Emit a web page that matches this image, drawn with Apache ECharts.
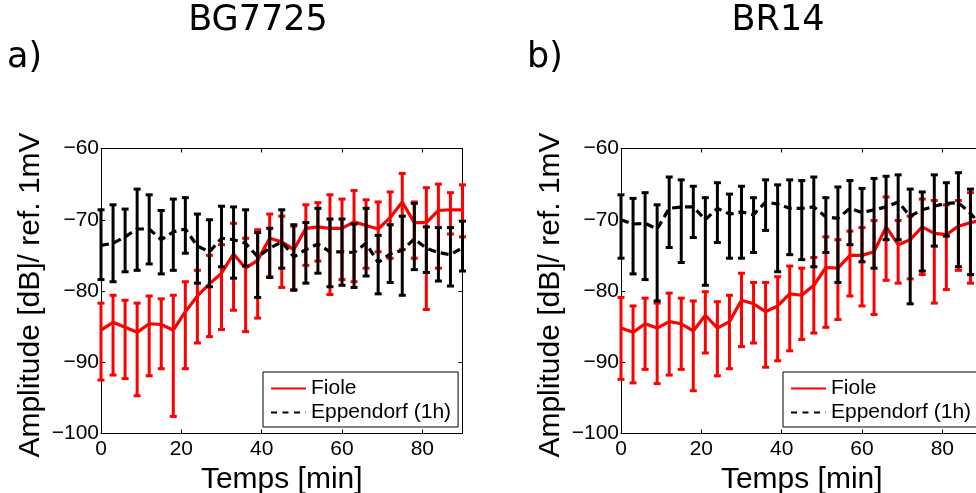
<!DOCTYPE html>
<html>
<head>
<meta charset="utf-8">
<script src="https://cdn.jsdelivr.net/npm/echarts@6/dist/echarts.min.js"></script>
<style>
html,body{margin:0;padding:0;background:#fff;}
#chart{width:976px;height:493px;}
</style>
</head>
<body>
<div id="chart"></div>
<script>
// ---------- data ----------
const timeMin = [0,3,6,9,12,15,18,21,24,27,30,33,36,39,42,45,48,51,54,57,60,63,66,69,72,75,78,81,84,87,90];
const panelTitles = ['BG7725', 'BR14'];
const panelLetters = ['a)', 'b)'];
const seriesNames = ['Fiole', 'Eppendorf (1h)'];
const yTicks = [-100, -90, -80, -70, -60];
const xTicks = [0, 20, 40, 60, 80];

// Panel a) BG7725
const aFioleMean = [-85.5,-84.4,-85.1,-85.8,-84.6,-84.7,-85.5,-82.9,-80.7,-79.0,-77.5,-74.8,-76.8,-75.7,-72.6,-73.1,-74.2,-71.2,-71.0,-71.2,-71.2,-70.3,-70.8,-71.3,-69.7,-67.5,-70.4,-70.4,-68.7,-68.6,-68.6];
const aFioleLow  = [-92.5,-91.8,-92.3,-94.7,-91.9,-90.9,-97.6,-90.9,-87.3,-86.4,-85.4,-82.7,-85.7,-83.8,-78.0,-79.5,-79.8,-76.4,-75.8,-80.5,-78.4,-78.7,-76.8,-74.5,-75.4,-74.2,-75.4,-82.6,-76.8,-72.0,-72.4];
const aFioleHigh = [-81.7,-80.6,-81.3,-81.7,-80.7,-81.1,-80.6,-78.7,-77.1,-75.0,-73.5,-70.5,-72.6,-71.4,-69.2,-69.5,-70.9,-67.9,-67.6,-66.5,-67.1,-65.9,-67.2,-67.5,-66.1,-63.5,-67.5,-65.5,-65.0,-66.2,-65.1];
const aEppMean = [-73.6,-73.3,-72.4,-71.3,-71.3,-72.8,-71.7,-71.3,-73.7,-74.5,-72.6,-72.8,-73.3,-75.2,-74.0,-73.1,-75.2,-74.2,-73.4,-74.5,-74.5,-74.6,-73.3,-76.0,-74.8,-74.3,-72.7,-74.0,-74.6,-74.9,-73.9];
const aEppLow  = [-78.4,-78.7,-77.3,-77.1,-76.2,-77.6,-77.1,-74.7,-78.9,-79.4,-76.6,-78.2,-76.5,-80.9,-78.1,-76.8,-79.9,-78.9,-77.5,-79.4,-79.2,-79.5,-77.9,-80.4,-78.8,-80.6,-77.0,-77.4,-78.6,-79.3,-77.2];
const aEppHigh = [-68.6,-67.9,-68.5,-65.7,-66.5,-68.7,-67.1,-66.9,-69.2,-70.0,-68.1,-68.2,-68.6,-71.8,-71.2,-68.6,-70.7,-70.4,-68.4,-69.9,-69.9,-70.6,-68.4,-72.2,-70.7,-69.5,-67.7,-71.0,-71.1,-71.1,-70.2];

// Panel b) BR14
const bFioleMean = [-85.2,-85.8,-84.6,-85.2,-84.3,-84.6,-85.6,-83.4,-85.2,-84.3,-81.3,-81.8,-82.9,-82.1,-80.4,-80.6,-79.2,-76.7,-76.8,-75.0,-75.0,-74.5,-71.0,-73.5,-72.8,-71.0,-71.9,-72.1,-70.9,-70.4,-70.0];
const bFioleLow  = [-92.4,-92.9,-91.0,-93.0,-91.8,-91.0,-94.0,-88.7,-91.9,-90.9,-87.8,-87.3,-90.7,-89.8,-88.4,-86.8,-85.9,-85.1,-84.0,-80.7,-82.1,-83.3,-78.5,-78.9,-78.3,-77.7,-81.7,-79.8,-77.1,-78.9,-77.5];
const bFioleHigh = [-80.9,-82.1,-81.0,-81.7,-80.3,-81.0,-81.4,-80.1,-81.5,-80.6,-77.5,-78.8,-78.8,-78.0,-76.5,-76.8,-75.3,-72.4,-72.8,-71.6,-71.1,-70.1,-66.8,-70.1,-69.5,-67.1,-67.3,-67.9,-67.3,-66.2,-66.5];
const bEppMean = [-70.0,-70.6,-70.5,-71.3,-68.4,-68.2,-68.2,-70.0,-68.4,-69.2,-68.9,-69.3,-67.5,-67.8,-68.4,-68.4,-68.2,-69.6,-69.8,-68.4,-69.0,-68.6,-68.2,-67.5,-69.5,-68.6,-68.1,-67.7,-67.6,-69.1,-71.0];
const bEppLow  = [-75.4,-77.6,-78.4,-81.4,-73.9,-76.0,-72.5,-79.2,-73.2,-75.4,-75.4,-74.6,-71.5,-77.3,-74.9,-75.6,-76.6,-74.6,-78.8,-73.5,-75.9,-76.8,-72.8,-72.8,-81.8,-77.2,-73.7,-72.3,-76.6,-77.7,-76.5];
const bEppHigh = [-66.5,-67.0,-66.2,-67.9,-64.0,-64.4,-65.3,-66.9,-64.8,-66.4,-65.3,-66.9,-64.4,-65.1,-64.4,-64.5,-64.0,-66.9,-65.4,-64.5,-65.6,-64.2,-63.9,-63.7,-65.7,-66.1,-63.7,-64.8,-63.4,-65.7,-66.0];

// ---------- helpers ----------
const RED = '#ff0000', BLACK = '#000000';
const FONT = '"Liberation Sans", Arial, sans-serif';
const TFONT = '"DejaVu Sans", Verdana, sans-serif';
const minusFmt = v => (v < 0 ? '\u2212' + Math.abs(v) : String(v));

function pairs(xs, ys){ return xs.map((x,i)=>[x, ys[i]]); }
function triples(xs, lo, hi){ return xs.map((x,i)=>[x, lo[i], hi[i]]); }

function errRenderer(color){
  return function(params, api){
    const x = api.value(0), lo = api.value(1), hi = api.value(2);
    const a = api.coord([x, lo]), b = api.coord([x, hi]);
    const hw = 3.5;
    const st = {stroke: color, lineWidth: 3, fill: null};
    return {type:'group', children:[
      {type:'line', shape:{x1:a[0], y1:a[1], x2:b[0], y2:b[1]}, style:st},
      {type:'line', shape:{x1:a[0]-hw, y1:a[1], x2:a[0]+hw, y2:a[1]}, style:st},
      {type:'line', shape:{x1:b[0]-hw, y1:b[1], x2:b[0]+hw, y2:b[1]}, style:st}
    ]};
  };
}

const panels = [
  {fm:aFioleMean, fl:aFioleLow, fh:aFioleHigh, em:aEppMean, el:aEppLow, eh:aEppHigh},
  {fm:bFioleMean, fl:bFioleLow, fh:bFioleHigh, em:bEppMean, el:bEppLow, eh:bEppHigh}
];
const gridLefts = [101, 621];
const GRID_TOP = 148.5, GRID_W = 361.5, GRID_H = 285;

const grids = [], xAxes = [], yAxes = [], series = [], legends = [], graphics = [];
panels.forEach((p, k) => {
  grids.push({left: gridLefts[k], top: GRID_TOP, width: GRID_W, height: GRID_H,
              containLabel:false, outerBoundsMode:'none'});
  const axisCommon = {
    axisLine:{show:true, onZero:false, lineStyle:{color:BLACK, width:1}},
    axisTick:{show:true, inside:true, length:4, lineStyle:{color:BLACK, width:1}},
    splitLine:{show:false}
  };
  xAxes.push(Object.assign({
    type:'value', gridIndex:k, position:'bottom', min:0, max:90, interval:20,
    axisLabel:{show:true, margin:5, fontSize:21, color:BLACK, fontFamily:FONT, showMaxLabel:false},
    name:'Temps [min]', nameLocation:'middle', nameGap:21,
    nameTextStyle:{fontSize:30, color:BLACK, fontFamily:FONT}
  }, axisCommon));
  xAxes.push(Object.assign({
    type:'value', gridIndex:k, position:'top', min:0, max:90, interval:20,
    axisLabel:{show:false}
  }, axisCommon));
  yAxes.push(Object.assign({
    type:'value', gridIndex:k, position:'left', min:-100, max:-60, interval:10,
    axisLabel:{show:true, margin:2, fontSize:21, color:BLACK, fontFamily:FONT, formatter:minusFmt},
    name:'Amplitude [dB]/ ref. 1mV', nameLocation:'middle', nameGap:55, nameRotate:90,
    nameTextStyle:{fontSize:30, color:BLACK, fontFamily:FONT, padding:[0,8,0,0]}
  }, axisCommon));
  yAxes.push(Object.assign({
    type:'value', gridIndex:k, position:'right', min:-100, max:-60, interval:10,
    axisLabel:{show:false}
  }, axisCommon));

  const xi = 2*k, yi = 2*k;
  series.push({
    name:'errF'+k, type:'custom', xAxisIndex:xi, yAxisIndex:yi,
    renderItem: errRenderer(RED), data: triples(timeMin, p.fl, p.fh),
    encode:{x:0, y:[1,2]}, z:2, silent:true
  });
  series.push({
    name:seriesNames[0], type:'line', xAxisIndex:xi, yAxisIndex:yi,
    data: pairs(timeMin, p.fm), symbol:'none', showSymbol:false,
    lineStyle:{color:RED, width:3.2}, itemStyle:{color:RED}, z:3, animation:false
  });
  series.push({
    name:'errE'+k, type:'custom', xAxisIndex:xi, yAxisIndex:yi,
    renderItem: errRenderer(BLACK), data: triples(timeMin, p.el, p.eh),
    encode:{x:0, y:[1,2]}, z:4, silent:true
  });
  series.push({
    name:seriesNames[1], type:'line', xAxisIndex:xi, yAxisIndex:yi,
    data: pairs(timeMin, p.em), symbol:'none', showSymbol:false,
    lineStyle:{color:BLACK, width:3.2, type:[8,5]}, itemStyle:{color:BLACK}, z:5, animation:false
  });

  legends.push({
    data: [
      {name: seriesNames[0]},
      {name: seriesNames[1], lineStyle:{type:[6,5.5]}}
    ],
    orient:'vertical', left: gridLefts[k] + 162, top: 372,
    backgroundColor:'#ffffff', borderColor:BLACK, borderWidth:1, borderRadius:0,
    padding:[6,7,4,7], itemGap:3, itemWidth:35, itemHeight:14,
    itemStyle:{color:'rgba(0,0,0,0)', borderWidth:0, opacity:0},
    textStyle:{fontSize:21, color:BLACK, fontFamily:FONT, lineHeight:21},
    selectedMode:false, z:10
  });

  graphics.push({type:'text', x: gridLefts[k] + 157, y: 21, z:10,
    style:{text: panelTitles[k], font:'35px ' + TFONT, fill:BLACK, textAlign:'center', textVerticalAlign:'middle'}});
  graphics.push({type:'text', x: gridLefts[k] - 94, y: 58, z:10,
    style:{text: panelLetters[k], font:'35px ' + TFONT, fill:BLACK, textAlign:'left', textVerticalAlign:'middle'}});
});

const chart = echarts.init(document.getElementById('chart'), null, {renderer:'canvas'});
chart.setOption({
  animation:false,
  backgroundColor:'#ffffff',
  grid: grids, xAxis: xAxes, yAxis: yAxes,
  legend: legends, series: series, graphic: graphics,
  tooltip:{show:false}
});
</script>
</body>
</html>
